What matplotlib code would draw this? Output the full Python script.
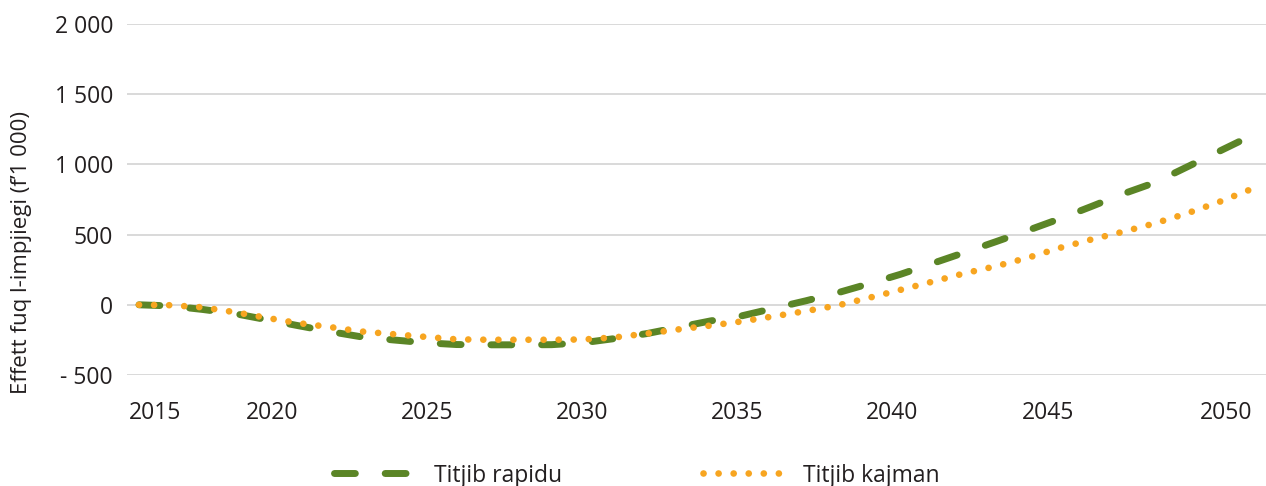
import matplotlib
matplotlib.use("Agg")
import matplotlib.pyplot as plt
from matplotlib.lines import Line2D

years = list(range(2015, 2051))
rapidu = [0, -8, -33, -62, -105, -148, -190, -228, -250, -270, -283, -285, -285, -284,
          -270, -240, -205, -160, -115, -78, -25, 28, 85, 150, 218, 295, 372, 450, 530,
          612, 700, 790, 870, 980, 1090, 1200]
kajman = [0, -3, -18, -52, -92, -130, -158, -190, -209, -228, -246, -249, -249, -249,
          -247, -232, -205, -175, -148, -118, -82, -45, -5, 50, 107, 165, 224, 275, 335,
          405, 465, 520, 580, 650, 730, 820]
series_names = ["Titjib rapidu", "Titjib kajman"]
y_ticks = [-500, 0, 500, 1000, 1500, 2000]
y_tick_labels = ["- 500", "0", "500", "1 000", "1 500", "2 000"]
x_tick_labels = ["2015", "2020", "2025", "2030", "2035", "2040", "2045", "2050"]
y_label = "Effett fuq l-impjiegi (f\u20191 000)"

W, H = 1266, 486
fig = plt.figure(figsize=(W / 100, H / 100), dpi=100)
plt.rcParams['font.family'] = ['Open Sans', 'DejaVu Sans']
txt = "#231f20"
green = "#5b8526"
orange = "#f7a520"
fs = 16.5

ax_l, ax_r, ax_t, ax_b = 127, 1266, 24, 375
ax = fig.add_axes([ax_l / W, 1 - ax_b / H, (ax_r - ax_l) / W, (ax_b - ax_t) / H])

px_per_year = (1250 - 139) / 35
x0 = 2015 - (139 - ax_l) / px_per_year
x1 = 2050 + (ax_r - 1250) / px_per_year
ax.set_xlim(x0, x1)
ax.set_ylim(-500, 2000)

g_lw, o_lw = 5.0, 4.8
g_ls = (0, (3.0, 4.3))
o_ls = (0, (0.01, 2.25))
ax.plot(years, rapidu, color=green, lw=g_lw, dash_capstyle='round',
        linestyle=g_ls, label=series_names[0], zorder=3)
ax.plot(years, kajman, color=orange, lw=o_lw, dash_capstyle='round',
        linestyle=o_ls, label=series_names[1], zorder=4)

ax.set_yticks(y_ticks)
ax.set_yticklabels(y_tick_labels)
# x tick label centres (pixel positions in the reference layout)
label_px = [155, 272, 427, 582, 737, 892, 1048, 1226]
ax.set_xticks([2015 + (p - 139) / px_per_year for p in label_px])
ax.set_xticklabels(x_tick_labels)
ax.tick_params(axis='both', length=0, labelsize=fs, labelcolor=txt)
ax.tick_params(axis='y', pad=10)
ax.tick_params(axis='x', pad=19)
ax.grid(axis='y', color="#cfcfcf", lw=1.1)
ax.set_axisbelow(True)
for s in ax.spines.values():
    s.set_visible(False)

fig.text(22 / W, 1 - 253 / H, y_label, rotation=90, ha='center', va='center',
         fontsize=16, color=txt)

handles = [
    Line2D([], [], color=green, lw=g_lw, dash_capstyle='round', linestyle=g_ls),
    Line2D([], [], color=orange, lw=o_lw, dash_capstyle='round', linestyle=o_ls),
]
fs_px = fs * 100 / 72
leg = fig.legend(handles, series_names, loc='center left',
                 bbox_to_anchor=(333.5 / W, 1 - 475.5 / H), ncol=2,
                 frameon=False, fontsize=fs, borderpad=0, borderaxespad=0,
                 handlelength=76 / fs_px, handletextpad=24 / fs_px,
                 columnspacing=141 / fs_px, labelcolor=txt)

fig.savefig("out.png", dpi=100)
